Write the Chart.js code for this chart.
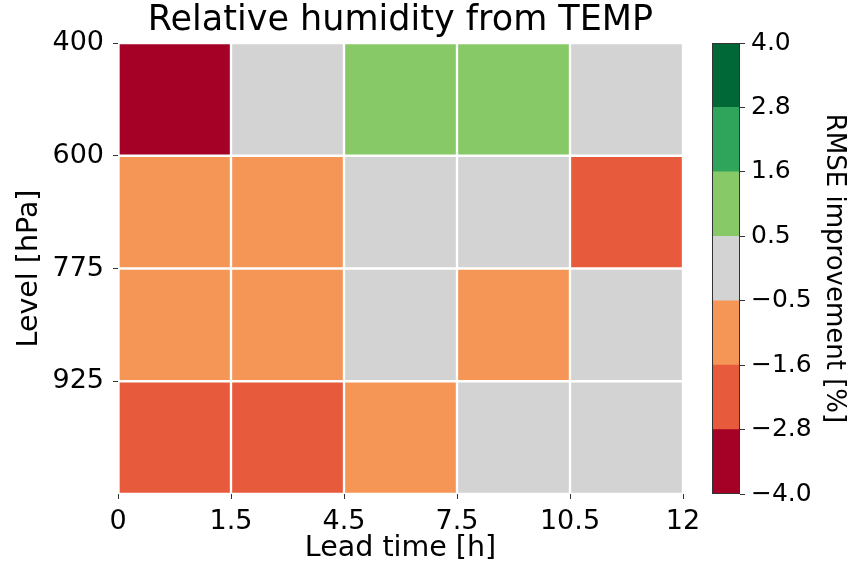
<!DOCTYPE html>
<html>
<head>
<meta charset="utf-8">
<script src="https://cdn.jsdelivr.net/npm/chart.js@4.4.1/dist/chart.umd.min.js"></script>
<style>
  body { margin: 0; background: #ffffff; }
  #wrap { position: relative; width: 851px; height: 569px; }
  canvas { position: absolute; top: 0; }
</style>
</head>
<body>
<div id="wrap">
  <canvas id="heat" width="851" height="569" style="left:0"></canvas>
  <canvas id="cbar" width="161" height="569" style="left:690px"></canvas>
</div>
<script>
// pressure levels (rows, top to bottom) and lead time edges (columns)
const levelTicks = ['400', '600', '775', '925', ''];
const leadTicks = ['0', '1.5', '4.5', '7.5', '10.5', '12'];

// RMSE improvement [%] per lead time bin, rows = 400, 600, 775, 925 hPa
const lead0to1_5 = [-3.4, -1.2, -1.0, -2.1];
const lead1_5to4_5 = [0.1, -1.1, -1.3, -2.0];
const lead4_5to7_5 = [1.1, 0.2, 0.0, -1.1];
const lead7_5to10_5 = [1.0, -0.1, -0.9, -0.3];
const lead10_5to12 = [-0.2, -2.3, 0.3, 0.1];

// colour bins
const cbarBounds = [-4.0, -2.8, -1.6, -0.5, 0.5, 1.6, 2.8, 4.0];
const cbarTicks = ['\u22124.0', '\u22122.8', '\u22121.6', '\u22120.5', '0.5', '1.6', '2.8', '4.0'];
const binColors = ['#a50026', '#e85a3c', '#f69656', '#d3d3d3', '#87c967', '#2fa55b', '#006837'];

const columns = [lead0to1_5, lead1_5to4_5, lead4_5to7_5, lead7_5to10_5, lead10_5to12];
const FONT = '"DejaVu Sans", sans-serif';

function colorFor(v) {
    for (let i = 0; i < binColors.length; i++) {
        if (v >= cbarBounds[i] && v < cbarBounds[i + 1]) return binColors[i];
    }
    return v < cbarBounds[0] ? binColors[0] : binColors[binColors.length - 1];
}

const datasets = columns.map((col, j) => ({
    label: leadTicks[j] + '-' + leadTicks[j + 1],
    data: col.map((v, i) => ({ x: 1, y: i + 0.5 })),
    backgroundColor: col.map(v => colorFor(v)),
    borderColor: '#ffffff',
    borderWidth: 1.5,
    borderSkipped: false,
    barPercentage: 1,
    categoryPercentage: 1
}));

new Chart(document.getElementById('heat'), {
    type: 'bar',
    data: { datasets: datasets },
    options: {
        indexAxis: 'y',
        responsive: false,
        animation: false,
        layout: { padding: { right: 168 } },
        plugins: {
            legend: { display: false },
            tooltip: { enabled: false },
            title: {
                display: true,
                fullSize: false,
                text: 'Relative humidity from TEMP',
                color: '#000',
                font: { family: FONT, size: 35, weight: 'normal' },
                padding: { top: 0, bottom: 1 }
            }
        },
        scales: {
            x: {
                type: 'linear',
                stacked: true,
                min: 0,
                max: 5,
                ticks: { stepSize: 1, callback: v => leadTicks[v], color: '#000', font: { family: FONT, size: 27 }, padding: 7, maxRotation: 0 },
                grid: { drawOnChartArea: false, tickLength: 5, color: '#333' },
                border: { display: false },
                title: { display: true, text: 'Lead time [h]', color: '#000', font: { family: FONT, size: 28.5 }, padding: { top: 0, bottom: 3 } },
                afterFit: s => { s.height = 75; }
            },
            y: {
                type: 'linear',
                stacked: true,
                offset: false,
                reverse: true,
                min: 0,
                max: 4,
                ticks: { stepSize: 1, callback: v => levelTicks[v], color: '#000', font: { family: FONT, size: 27 }, padding: 9 },
                grid: {
                    offset: false,
                    drawOnChartArea: false,
                    tickLength: 5,
                    color: c => (c.tick && c.tick.value === 4) ? 'rgba(0,0,0,0)' : '#333'
                },
                border: { display: false },
                title: { display: true, text: 'Level [hPa]', color: '#000', font: { family: FONT, size: 28.5 }, padding: { top: 12, bottom: 0 } },
                afterFit: s => { s.width = 118; }
            }
        }
    }
});

// colorbar
const outline = {
    id: 'outline',
    afterDraw(chart) {
        const a = chart.chartArea;
        const ctx = chart.ctx;
        ctx.save();
        ctx.strokeStyle = '#333';
        ctx.lineWidth = 1;
        ctx.strokeRect(Math.round(a.left) + 0.5, Math.round(a.top) + 0.5, Math.round(a.right - a.left) - 1, Math.round(a.bottom - a.top) - 1);
        ctx.restore();
    }
};

new Chart(document.getElementById('cbar'), {
    type: 'bar',
    data: {
        labels: [''],
        datasets: binColors.map((c, i) => ({
            data: [1],
            backgroundColor: c,
            borderWidth: 0,
            barPercentage: 1,
            categoryPercentage: 1
        }))
    },
    options: {
        responsive: false,
        animation: false,
        layout: { padding: { left: 22, top: 43, bottom: 75 } },
        plugins: { legend: { display: false }, tooltip: { enabled: false } },
        scales: {
            x: { display: false, stacked: true },
            y: {
                position: 'right',
                stacked: true,
                min: 0,
                max: 7,
                ticks: { stepSize: 1, callback: v => cbarTicks[v], color: '#000', font: { family: FONT, size: 25 }, padding: 6 },
                grid: { drawOnChartArea: false, tickLength: 5, color: '#333' },
                border: { display: false },
                title: { display: true, text: 'RMSE improvement [%]', color: '#000', font: { family: FONT, size: 26 }, padding: { top: 2, bottom: 0 } },
                afterFit: s => { s.width = 111; }
            }
        }
    },
    plugins: [outline]
});
</script>
</body>
</html>
